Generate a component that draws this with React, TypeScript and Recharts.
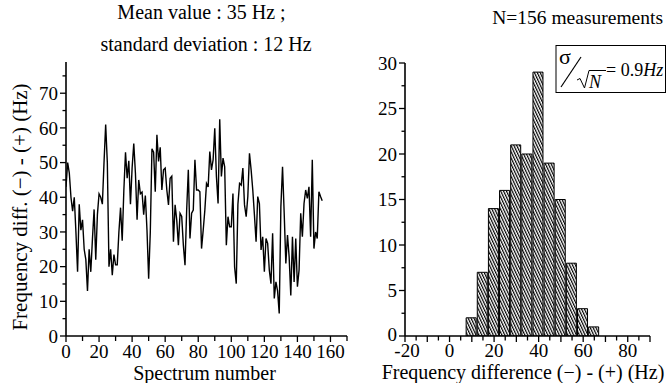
import React from 'react';
import { LineChart, Line, BarChart, Bar, XAxis, YAxis } from 'recharts';

// ---------- data ----------
const freqDiff: number[] = [
  43, 50, 47, 40, 36, 40, 30, 18.5, 38, 30.5, 33.5, 25, 22, 13, 25, 18.5, 28, 36.5, 22, 35,
  41, 40, 38, 50, 61, 50, 20, 25, 17.5, 23.5, 20.5, 20.5, 30, 37, 27.5, 42, 53, 45.5, 50.5, 38,
  48.5, 55.5, 47, 33.5, 45, 41, 41.5, 35, 40.5, 30.5, 16.5, 30, 54, 53, 41.6, 58, 50.3, 54.4, 42.1, 47.9,
  48.4, 42.1, 37.8, 45.5, 46.1, 27.2, 37.8, 33.4, 26.2, 35.4, 34.5, 26.2, 20.4, 36.3, 47.9, 28.1, 35.4, 36.3, 50.8, 42.1,
  42.1, 41.6, 25.2, 30.5, 36.3, 44, 43, 53.2, 47.9, 50.8, 59.9, 46, 38.2, 62.5, 46, 51.3, 48.8, 26.2, 34.4, 31.5,
  31.5, 41.1, 19.9, 15.1, 38, 44, 43.5, 48.4, 37.8, 34.4, 40.2, 52.7, 47.9, 42.1, 34.9, 27.2, 40.2, 38.2, 24.8, 28.6,
  18.5, 28.1, 26.7, 19, 15.1, 29.6, 10.8, 15.6, 13, 6.5, 37.3, 48.8, 35.4, 20.9, 29.1, 22.8, 11.7, 28.6, 15.6, 28.1,
  14.2, 19, 35.4, 28.6, 38.2, 42.1, 39.7, 43, 28.6, 50.8, 25.2, 30, 28.1, 41.6, 40.2, 39,
];

const binCenters: number[] = [9.5, 14.5, 19.5, 24.5, 29.5, 34.5, 39.5, 44.5, 49.5, 54.5, 59.5, 64.5];
const binCounts: number[] = [2, 7, 14, 16, 21, 20, 29, 19, 15, 8, 3, 1];

const leftXTicks: number[] = [0, 10, 20, 30, 40, 50, 60, 70, 80, 90, 100, 110, 120, 130, 140, 150, 160, 170];
const leftXLabels: number[] = [0, 20, 40, 60, 80, 100, 120, 140, 160];
const leftYTicks: number[] = [0, 5, 10, 15, 20, 25, 30, 35, 40, 45, 50, 55, 60, 65, 70, 75];
const leftYLabels: number[] = [0, 10, 20, 30, 40, 50, 60, 70];

const rightXTicks: number[] = [-20, -15, -10, -5, 0, 5, 10, 15, 20, 25, 30, 35, 40, 45, 50, 55, 60, 65, 70, 75, 80, 85, 90];
const rightXLabels: number[] = [-20, 0, 20, 40, 60, 80];
const rightYTicks: number[] = [0, 2.5, 5, 7.5, 10, 12.5, 15, 17.5, 20, 22.5, 25, 27.5, 30];
const rightYLabels: number[] = [0, 5, 10, 15, 20, 25, 30];

const titleLine1 = 'Mean value : 35 Hz ;';
const titleLine2 = 'standard deviation : 12 Hz';
const countText = 'N=156 measurements';
const leftXTitle = 'Spectrum number';
const leftYTitle = 'Frequency diff. (\u2212) - (+) (Hz)';
const rightXTitle = 'Frequency difference (\u2212) - (+) (Hz)';

const lineData = freqDiff.map((v, i) => ({ n: i, v }));
const histData = binCenters.map((c, i) => ({ c, count: binCounts[i] }));

// ---------- style ----------
const FONT = "'Liberation Serif', 'Times New Roman', serif";
const TICK_FS = 19;
const AX = '#000';

const RIGHT_LEFT = 345;
const RIGHT_PLOT_W = 324 - 0 - 60 - 19;
const BIN_PX = (RIGHT_PLOT_W / 110) * 5;

const LeftXTick = (props: any) => {
  const { x, y, payload } = props;
  const v = payload.value;
  const lab = leftXLabels.includes(v);
  return (
    <g>
      <line x1={x} y1={y} x2={x} y2={y + (lab ? 6 : 5)} stroke={AX} strokeWidth={1.3} />
      {lab && (
        <text x={x} y={y + 22} textAnchor="middle" fontSize={TICK_FS} fontFamily={FONT} fill="#000">{v}</text>
      )}
    </g>
  );
};

const LeftYTick = (props: any) => {
  const { x, y, payload } = props;
  const v = payload.value;
  const lab = leftYLabels.includes(v);
  return (
    <g>
      <line x1={x - (lab ? 6 : 3.5)} y1={y} x2={x} y2={y} stroke={AX} strokeWidth={1.3} />
      {lab && (
        <text x={x - 8} y={y} dy="0.35em" textAnchor="end" fontSize={TICK_FS} fontFamily={FONT} fill="#000">{v}</text>
      )}
    </g>
  );
};

const RightXTick = (props: any) => {
  const { x, y, payload } = props;
  const v = payload.value;
  const lab = rightXLabels.includes(v);
  return (
    <g>
      <line x1={x} y1={y} x2={x} y2={y + (v % 10 === 0 ? 6 : 4.5)} stroke={AX} strokeWidth={1.3} />
      {lab && (
        <text x={v === -20 ? x + 2 : x} y={y + 21} textAnchor="middle" fontSize={TICK_FS} fontFamily={FONT} fill="#000">{v}</text>
      )}
    </g>
  );
};

const RightYTick = (props: any) => {
  const { x, y, payload } = props;
  const v = payload.value;
  const lab = rightYLabels.includes(v);
  return (
    <g>
      <line x1={x - (lab ? 6 : 3.5)} y1={y} x2={x} y2={y} stroke={AX} strokeWidth={1.3} />
      {lab && (
        <text x={x - 8} y={v === 0 ? y - 2 : y} dy="0.35em" textAnchor="end" fontSize={TICK_FS} fontFamily={FONT} fill="#000">{v}</text>
      )}
    </g>
  );
};

export default function App() {
  return (
    <div style={{ position: 'absolute', left: 0, top: 0, width: 669, height: 383, background: '#fff', overflow: 'hidden' }}>
      <svg width={0} height={0} style={{ position: 'absolute' }}>
        <defs>
          <pattern id="hatch" patternUnits="userSpaceOnUse" width={2.6} height={12} patternTransform="rotate(-25)">
            <rect width={2.6} height={12} fill="#fff" />
            <line x1={0.6} y1={0} x2={0.6} y2={12} stroke="#000" strokeWidth={1.2} />
          </pattern>
        </defs>
      </svg>

      <div style={{ position: 'absolute', left: 0, top: 0 }}>
        <LineChart width={360} height={383} data={lineData} margin={{ top: 62, right: 13, bottom: 0, left: 6 }}>
          <XAxis
            dataKey="n"
            type="number"
            domain={[0, 170]}
            allowDataOverflow
            ticks={leftXTicks}
            interval={0}
            tickLine={false}
            tickSize={0}
            tickMargin={0}
            tick={(p: any) => <LeftXTick {...p} />}
            height={47}
            axisLine={{ stroke: AX, strokeWidth: 1.6 }}
          />
          <YAxis
            type="number"
            domain={[0, 79]}
            allowDataOverflow
            ticks={leftYTicks}
            interval={0}
            tickLine={false}
            tickSize={0}
            tickMargin={0}
            tick={(p: any) => <LeftYTick {...p} />}
            width={60}
            axisLine={{ stroke: AX, strokeWidth: 1.6 }}
          />
          <Line type="linear" dataKey="v" stroke="#000" strokeWidth={1.4} dot={false} isAnimationActive={false} />
        </LineChart>
      </div>

      <div style={{ position: 'absolute', left: RIGHT_LEFT, top: 0 }}>
        <BarChart width={324} height={383} data={histData} margin={{ top: 63, right: 19, bottom: 0, left: 0 }} barCategoryGap={0} barGap={0}>
          <XAxis
            dataKey="c"
            type="number"
            domain={[-20, 90]}
            allowDataOverflow
            ticks={rightXTicks}
            interval={0}
            tickLine={false}
            tickSize={0}
            tickMargin={0}
            tick={(p: any) => <RightXTick {...p} />}
            height={47}
            axisLine={{ stroke: AX, strokeWidth: 1.6 }}
          />
          <YAxis
            type="number"
            domain={[0, 30]}
            allowDataOverflow
            ticks={rightYTicks}
            interval={0}
            tickLine={false}
            tickSize={0}
            tickMargin={0}
            tick={(p: any) => <RightYTick {...p} />}
            width={60}
            axisLine={{ stroke: AX, strokeWidth: 1.6 }}
          />
          <Bar dataKey="count" fill="url(#hatch)" stroke="#000" strokeWidth={1} barSize={BIN_PX} isAnimationActive={false} />
        </BarChart>
      </div>

      <svg width={669} height={383} style={{ position: 'absolute', left: 0, top: 0, pointerEvents: 'none' }}>
        <g fontFamily={FONT} fill="#000">
          <text x={201.5} y={19} textAnchor="middle" fontSize={20}>{titleLine1}</text>
          <text x={206} y={51} textAnchor="middle" fontSize={20}>{titleLine2}</text>
          <text x={663} y={24} textAnchor="end" fontSize={19.5}>{countText}</text>
          <text x={204.5} y={380} textAnchor="middle" fontSize={20}>{leftXTitle}</text>
          <text x={523} y={379} textAnchor="middle" fontSize={20}>{rightXTitle}</text>
          <text x={27} y={207} textAnchor="middle" fontSize={21} transform="rotate(-90 27 207)">{leftYTitle}</text>

          <rect x={556} y={45.5} width={109.5} height={47} fill="#fff" stroke="#000" strokeWidth={1} />
          <text x={559} y={64} fontSize={22}>σ</text>
          <line x1={561} y1={87} x2={581} y2={57} stroke="#000" strokeWidth={1.2} />
          <path d="M577 80 L580 78.5 L584.5 88 L589 70.5 L606 70.5" fill="none" stroke="#000" strokeWidth={1} />
          <text x={589} y={88} fontSize={18} fontStyle="italic">N</text>
          <text x={606} y={76} fontSize={18}>= 0.9<tspan fontStyle="italic">Hz</tspan></text>
        </g>
      </svg>
    </div>
  );
}
